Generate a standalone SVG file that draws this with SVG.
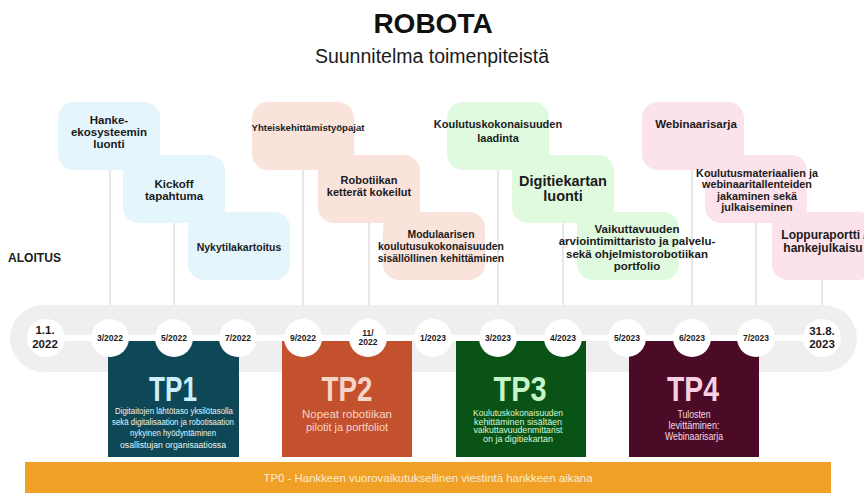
<svg xmlns="http://www.w3.org/2000/svg" width="864" height="495" viewBox="0 0 864 495">
<style>
.bt{font-family:"Liberation Sans",Arial,sans-serif;font-weight:bold;fill:#1b1b1b;text-anchor:middle}
.dt{font-family:"Liberation Sans",Arial,sans-serif;font-weight:bold;fill:#1b1b1b;text-anchor:middle;font-size:8.5px}
.dl{font-family:"Liberation Sans",Arial,sans-serif;font-weight:bold;fill:#1b1b1b;text-anchor:middle;font-size:11.5px}
.tpt{font-family:"Liberation Sans Narrow","Liberation Sans",Arial,sans-serif;font-weight:bold;text-anchor:middle;font-size:35px}
.tpd{font-family:"Liberation Sans Narrow","Liberation Sans",Arial,sans-serif;text-anchor:middle}
.blue{fill:#e4f5fc}
.sal{fill:#f9e3db}
.grn{fill:#e0fae0}
.pnk{fill:#fce2ea}
.vl{stroke:#cfcfcf;stroke-width:1;fill:none}
.circ{fill:#ffffff}
</style>
<rect x="0" y="0" width="864" height="495" fill="#ffffff"/>
<g id="title">
<text x="433" y="33" font-family="Liberation Sans,Arial,sans-serif" font-weight="bold" font-size="28" text-anchor="middle" fill="#111">ROBOTA</text>
<text x="432" y="63" font-family="Liberation Sans,Arial,sans-serif" font-size="19.5" text-anchor="middle" fill="#1a1a1a">Suunnitelma toimenpiteistä</text>
</g>
<text id="aloitus" x="8" y="262" font-family="Liberation Sans,Arial,sans-serif" font-weight="bold" font-size="13" fill="#1b1b1b" textLength="53" lengthAdjust="spacingAndGlyphs">ALOITUS</text>

<g id="connectors">
<line class="vl" x1="110" y1="170" x2="110" y2="322"/>
<line class="vl" x1="174" y1="223" x2="174" y2="322"/>
<line class="vl" x1="303" y1="170" x2="303" y2="322"/>
<line class="vl" x1="369" y1="223" x2="369" y2="322"/>
<line class="vl" x1="498" y1="170" x2="498" y2="322"/>
<line class="vl" x1="563" y1="223" x2="563" y2="322"/>
<line class="vl" x1="692" y1="170" x2="692" y2="322"/>
<line class="vl" x1="756" y1="223" x2="756" y2="322"/>
<line class="vl" x1="822" y1="280" x2="822" y2="322"/>
</g>

<g id="n-hanke"><rect class="blue" x="58" y="102" width="102" height="68" rx="16"/>
<text class="bt" font-size="11.5"><tspan x="109" y="124">Hanke-</tspan><tspan x="109" y="136">ekosysteemin</tspan><tspan x="109" y="148">luonti</tspan></text></g>
<g id="n-kickoff"><rect class="blue" x="123" y="155" width="102" height="68" rx="16"/>
<text class="bt" font-size="11.5"><tspan x="174" y="188">Kickoff</tspan><tspan x="174" y="200">tapahtuma</tspan></text></g>
<g id="n-nyky"><rect class="blue" x="188" y="212" width="102" height="68" rx="16"/>
<text class="bt" font-size="10.5" x="239" y="251">Nykytilakartoitus</text></g>

<g id="n-yhteis"><rect class="sal" x="252" y="102" width="102" height="68" rx="16"/>
<text class="bt" font-size="9.6" x="308" y="131">Yhteiskehittämistyöpajat</text></g>
<g id="n-robotiikan"><rect class="sal" x="318" y="155" width="102" height="68" rx="16"/>
<text class="bt" font-size="11"><tspan x="369" y="184">Robotiikan</tspan><tspan x="369" y="196">ketterät kokeilut</tspan></text></g>
<g id="n-modul"><rect class="sal" x="383" y="212" width="102" height="68" rx="16"/>
<text class="bt" font-size="10.4"><tspan x="441" y="238">Modulaarisen</tspan><tspan x="441" y="250">koulutusukokonaisuuden</tspan><tspan x="441" y="262">sisällöllinen kehittäminen</tspan></text></g>

<g id="n-koulutus"><rect class="grn" x="447" y="102" width="102" height="68" rx="16"/>
<text class="bt" font-size="11"><tspan x="498" y="128">Koulutuskokonaisuuden</tspan><tspan x="498" y="142">laadinta</tspan></text></g>
<g id="n-digi"><rect class="grn" x="512" y="155" width="102" height="68" rx="16"/>
<text class="bt" font-size="14.5"><tspan x="563" y="186">Digitiekartan</tspan><tspan x="563" y="201">luonti</tspan></text></g>
<g id="n-vaikut"><rect class="grn" x="577" y="212" width="102" height="68" rx="16"/>
<text class="bt" font-size="11.5"><tspan x="637" y="233">Vaikuttavuuden</tspan><tspan x="637" y="245">arviointimittaristo ja palvelu-</tspan><tspan x="637" y="258">sekä ohjelmistorobotiikan</tspan><tspan x="637" y="270">portfolio</tspan></text></g>

<g id="n-webinaari"><rect class="pnk" x="642" y="102" width="102" height="68" rx="16"/>
<text class="bt" font-size="11.5" x="696" y="128">Webinaarisarja</text></g>
<g id="n-materiaali"><rect class="pnk" x="705" y="155" width="102" height="68" rx="16"/>
<text class="bt" font-size="10.8"><tspan x="757" y="177">Koulutusmateriaalien ja</tspan><tspan x="757" y="188">webinaaritallenteiden</tspan><tspan x="757" y="200">jakaminen sekä</tspan><tspan x="757" y="211">julkaiseminen</tspan></text></g>
<g id="n-loppu"><rect class="pnk" x="772" y="212" width="102" height="68" rx="16"/>
<text class="bt" font-size="12"><tspan x="824" y="239">Loppuraportti /</tspan><tspan x="823" y="252">hankejulkaisu</tspan></text></g>

<g id="timeline">
<rect x="10" y="305" width="847" height="67" rx="33.5" fill="#efefef"/>
<rect x="40" y="335" width="790" height="6" fill="#ffffff"/>
</g>

<g id="tp1"><rect x="108" y="341" width="131" height="116" fill="#0e4856"/>
<text class="tpt" x="173" y="401" fill="#cdeefb" textLength="48" lengthAdjust="spacingAndGlyphs">TP1</text>
<text class="tpd" font-size="8.5" fill="#e6f4f8"><tspan x="174" y="414" textLength="118" lengthAdjust="spacingAndGlyphs">Digitaitojen  lähtötaso yksilötasolla</tspan><tspan x="173" y="425" textLength="122" lengthAdjust="spacingAndGlyphs">sekä digitalisaation ja robotisaation</tspan><tspan x="173" y="436" textLength="86" lengthAdjust="spacingAndGlyphs">nykyinen hyödyntäminen</tspan><tspan x="173" y="448" textLength="106" lengthAdjust="spacingAndGlyphs">osallistujan organisaatiossa</tspan></text></g>

<g id="tp2"><rect x="282" y="341" width="130" height="116" fill="#c3512d"/>
<text class="tpt" x="347" y="401" fill="#f6d5c9" textLength="51" lengthAdjust="spacingAndGlyphs">TP2</text>
<text class="tpd" font-size="11.5" fill="#f6d5c9"><tspan x="347" y="418" textLength="90" lengthAdjust="spacingAndGlyphs">Nopeat robotiikan</tspan><tspan x="347" y="431" textLength="82" lengthAdjust="spacingAndGlyphs">pilotit ja portfoliot</tspan></text></g>

<g id="tp3"><rect x="456" y="341" width="130" height="116" fill="#0a5317"/>
<text class="tpt" x="520" y="401" fill="#c6f5c6" textLength="53" lengthAdjust="spacingAndGlyphs">TP3</text>
<text class="tpd" font-size="8.6" fill="#d8f7d8"><tspan x="518" y="416" textLength="90" lengthAdjust="spacingAndGlyphs">Koulutuskokonaisuuden</tspan><tspan x="518" y="424.7" textLength="88" lengthAdjust="spacingAndGlyphs">kehittäminen sisältäen</tspan><tspan x="518" y="433.4" textLength="89" lengthAdjust="spacingAndGlyphs">vaikuttavuudenmittarist</tspan><tspan x="518" y="442.1" textLength="70" lengthAdjust="spacingAndGlyphs">on ja digitiekartan</tspan></text></g>

<g id="tp4"><rect x="629" y="341" width="130" height="116" fill="#4b0b26"/>
<text class="tpt" x="693" y="401" fill="#f8d0e4" textLength="52" lengthAdjust="spacingAndGlyphs">TP4</text>
<text class="tpd" font-size="11" fill="#f3dbe6"><tspan x="694" y="418" textLength="33" lengthAdjust="spacingAndGlyphs">Tulosten</tspan><tspan x="694" y="429" textLength="51" lengthAdjust="spacingAndGlyphs">levittäminen:</tspan><tspan x="694" y="440" textLength="58" lengthAdjust="spacingAndGlyphs">Webinaarisarja</tspan></text></g>

<g id="dates">
<circle class="circ" cx="46" cy="338" r="19"/><text class="dl"><tspan x="45" y="334">1.1.</tspan><tspan x="45" y="348">2022</tspan></text>
<circle class="circ" cx="110" cy="338" r="19"/><text class="dt" x="110" y="341">3/2022</text>
<circle class="circ" cx="174" cy="338" r="19"/><text class="dt" x="174" y="341">5/2022</text>
<circle class="circ" cx="238" cy="338" r="19"/><text class="dt" x="238" y="341">7/2022</text>
<circle class="circ" cx="303" cy="338" r="19"/><text class="dt" x="303" y="341">9/2022</text>
<circle class="circ" cx="368" cy="338" r="19"/><text class="dt"><tspan x="368" y="336">11/</tspan><tspan x="368" y="345">2022</tspan></text>
<circle class="circ" cx="433" cy="338" r="19"/><text class="dt" x="433" y="341">1/2023</text>
<circle class="circ" cx="498" cy="338" r="19"/><text class="dt" x="498" y="341">3/2023</text>
<circle class="circ" cx="563" cy="338" r="19"/><text class="dt" x="563" y="341">4/2023</text>
<circle class="circ" cx="627" cy="338" r="19"/><text class="dt" x="627" y="341">5/2023</text>
<circle class="circ" cx="692" cy="338" r="19"/><text class="dt" x="692" y="341">6/2023</text>
<circle class="circ" cx="756" cy="338" r="19"/><text class="dt" x="756" y="341">7/2023</text>
<circle class="circ" cx="822" cy="338" r="19"/><text class="dl"><tspan x="822" y="335">31.8.</tspan><tspan x="822" y="348">2023</tspan></text>
</g>

<g id="tp0"><rect x="25" y="462" width="806" height="31" fill="#f1a026"/>
<text x="428" y="482" font-family="Liberation Sans Narrow,Liberation Sans,Arial,sans-serif" font-size="11" fill="#fbecd4" text-anchor="middle" textLength="329" lengthAdjust="spacingAndGlyphs">TP0 - Hankkeen vuorovaikutuksellinen viestintä hankkeen aikana</text></g>
</svg>
